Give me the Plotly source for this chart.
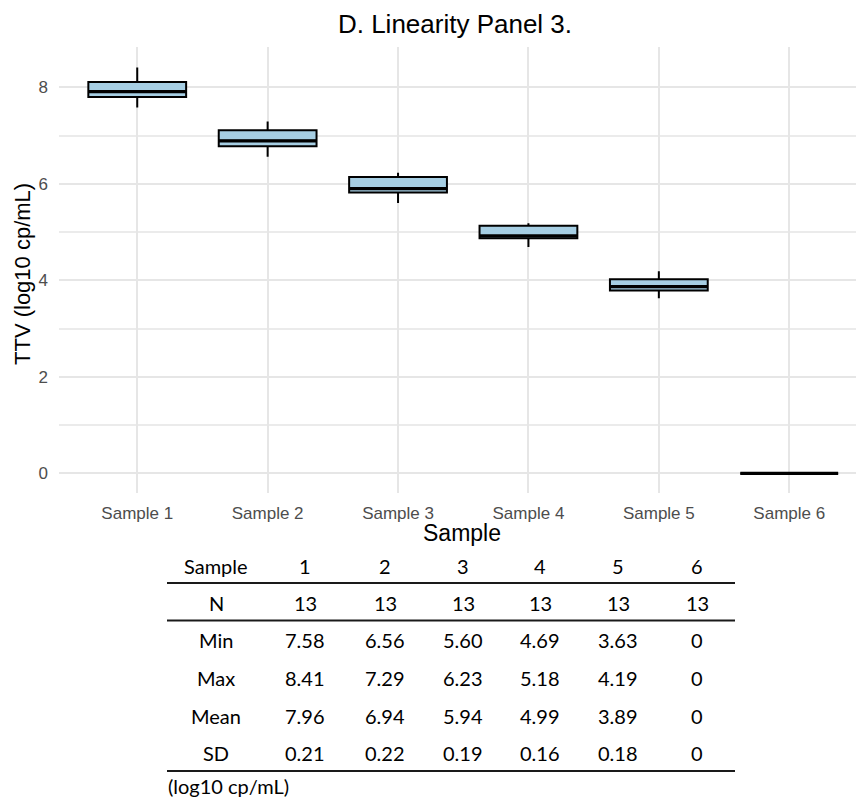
import plotly.graph_objects as go

# ---------------- data ----------------
samples = ["Sample 1", "Sample 2", "Sample 3", "Sample 4", "Sample 5", "Sample 6"]
box_q1 = [7.80, 6.78, 5.82, 4.87, 3.79, 0.0]
box_median = [7.91, 6.89, 5.90, 4.92, 3.87, 0.0]
box_q3 = [8.11, 7.11, 6.14, 5.13, 4.02, 0.0]
whisker_low = [7.58, 6.56, 5.60, 4.69, 3.63, 0.0]
whisker_high = [8.41, 7.29, 6.23, 5.18, 4.19, 0.0]

y_ticks = [0, 2, 4, 6, 8]

table_cols = ["1", "2", "3", "4", "5", "6"]
table_n = [13, 13, 13, 13, 13, 13]
table_min = [7.58, 6.56, 5.60, 4.69, 3.63, 0]
table_max = [8.41, 7.29, 6.23, 5.18, 4.19, 0]
table_mean = [7.96, 6.94, 5.94, 4.99, 3.89, 0]
table_sd = [0.21, 0.22, 0.19, 0.16, 0.18, 0]

# ---------------- layout geometry (px) ----------------
W, H = 856, 797
L, R, T, B = 59, 0, 47, 304
PW = W - L - R
PH = H - T - B
PX_PER_CAT = 130.4


def px_x(px):
    return (px - L) / PW


def px_y(py):
    return (H - B - py) / PH


fig = go.Figure()

fig.add_trace(go.Box(
    x=samples,
    q1=box_q1, median=box_median, q3=box_q3,
    lowerfence=whisker_low, upperfence=whisker_high,
    fillcolor="#a6cee3",
    line=dict(color="black", width=2),
    whiskerwidth=0,
    width=0.75,
    boxpoints=False,
    showlegend=False,
    hoverinfo="skip",
))

# thicker median bar (ggplot style); line-ew glyph spans 1.4 * size
fig.add_trace(go.Scatter(
    x=samples, y=box_median, mode="markers",
    marker=dict(symbol="line-ew", size=0.75 * PX_PER_CAT / 1.4,
                line=dict(color="black", width=3.4)),
    showlegend=False, hoverinfo="skip",
))

axis_font = dict(family="Liberation Sans, Arial, sans-serif", size=17, color="#4d4d4d")

fig.update_xaxes(
    range=[-0.6, -0.6 + PW / PX_PER_CAT],
    showline=False, ticks="", zeroline=False,
    showgrid=True, gridcolor="#e6e6e6", gridwidth=2,
    tickfont=axis_font,
    ticklabelstandoff=8,
)
fig.update_yaxes(
    range=[-0.406, 8.834],
    tickvals=y_ticks,
    showline=False, ticks="", zeroline=False,
    showgrid=True, gridcolor="#e6e6e6", gridwidth=2,
    minor=dict(dtick=1, tick0=1, showgrid=True, gridcolor="#ebebeb", gridwidth=1.5, ticks=""),
    tickfont=axis_font,
    ticklabelstandoff=10,
)

annotations = []
shapes = []

# axis titles
annotations.append(dict(
    text="TTV (log10 cp/mL)", xref="paper", yref="paper",
    x=px_x(22), y=px_y(274), textangle=-90, showarrow=False,
    xanchor="center", yanchor="middle",
    font=dict(family="Liberation Sans, Arial, sans-serif", size=22, color="black"),
))
annotations.append(dict(
    text="Sample", xref="paper", yref="paper",
    x=px_x(462), y=px_y(533), showarrow=False,
    xanchor="center", yanchor="middle",
    font=dict(family="Liberation Sans, Arial, sans-serif", size=23, color="black"),
))

# ---------------- summary table ----------------
tfont = dict(family="Lato, 'Open Sans', sans-serif", size=20, color="black")
label_x = 216
col_x = [305, 385, 463, 540, 618, 697]


def fmt(v):
    return "0" if v == 0 else f"{v:.2f}"


rows = [
    ("Sample", table_cols, 566),
    ("N", [str(v) for v in table_n], 603),
    ("Min", [fmt(v) for v in table_min], 640),
    ("Max", [fmt(v) for v in table_max], 678),
    ("Mean", [fmt(v) for v in table_mean], 716),
    ("SD", [fmt(v) for v in table_sd], 753),
]
for label, vals, yy in rows:
    annotations.append(dict(text=label, xref="paper", yref="paper", x=px_x(label_x), y=px_y(yy),
                            showarrow=False, xanchor="center", yanchor="middle", font=tfont))
    for cx, v in zip(col_x, vals):
        annotations.append(dict(text=v, xref="paper", yref="paper", x=px_x(cx), y=px_y(yy),
                                showarrow=False, xanchor="center", yanchor="middle", font=tfont))

annotations.append(dict(text="(log10 cp/mL)", xref="paper", yref="paper", x=px_x(166), y=px_y(786),
                        showarrow=False, xanchor="left", yanchor="middle", font=tfont))

for ly in [583, 620.5, 771]:
    shapes.append(dict(type="line", xref="paper", yref="paper",
                       x0=px_x(167), x1=px_x(735), y0=px_y(ly), y1=px_y(ly),
                       line=dict(color="#1a1a1a", width=2.2)))

fig.update_layout(
    width=W, height=H,
    margin=dict(l=L, r=R, t=T, b=B, autoexpand=False),
    paper_bgcolor="white", plot_bgcolor="white",
    title=dict(text="D. Linearity Panel 3.", x=455 / W, xanchor="center",
               y=1 - 24 / H, yanchor="middle", xref="container", yref="container",
               font=dict(family="Liberation Sans, Arial, sans-serif", size=26, color="black")),
    annotations=annotations,
    shapes=shapes,
)

fig.write_html("out.html")
